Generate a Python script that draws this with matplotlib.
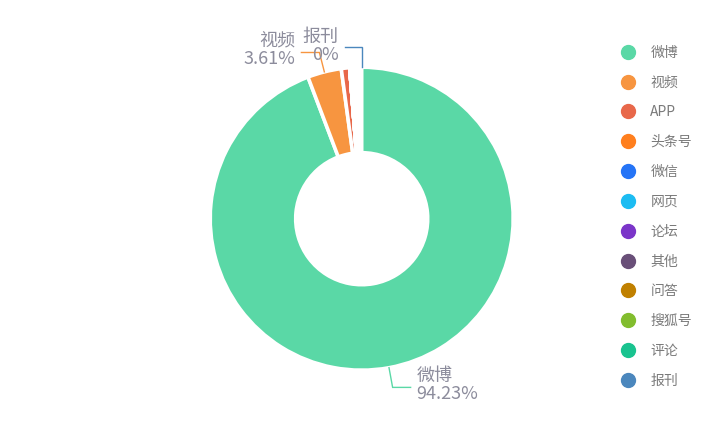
import numpy as np
import matplotlib
matplotlib.use("Agg")
import matplotlib.pyplot as plt
from matplotlib.lines import Line2D

plt.rcParams['font.family'] = ['Noto Sans CJK SC', 'DejaVu Sans']

# ---- data (percent of total) ----
categories = ['微博', '视频', 'APP', '头条号', '微信', '网页', '论坛', '其他', '问答', '搜狐号', '评论', '报刊']
values = [94.23, 3.61, 0.9, 0, 0, 0, 0, 0, 0, 0, 0, 0]
shown_labels = {'微博': '94.23%', '视频': '3.61%', '报刊': '0%'}
colors = ['#5ad8a6', '#f79540', '#e8684a', '#ff7f1e', '#2574f6', '#1cbcf2',
          '#7b35c9', '#694f78', '#c08000', '#82bd2e', '#19c38f', '#4b87bd']

W, H = 723, 437
fig = plt.figure(figsize=(W / 100, H / 100), dpi=100)
ax = fig.add_axes([0, 0, 1, 1])

cx, cy = 361.7, H - 218.7
R_out, R_in = 151.5, 66.0
START = 90

wedges, _ = ax.pie(np.array(values) / 100.0, colors=colors, startangle=START,
                   counterclock=False, normalize=False, radius=R_out,
                   center=(cx, cy),
                   wedgeprops=dict(width=R_out - R_in, edgecolor='white',
                                   linewidth=2.6))
ax.set_xlim(0, W)
ax.set_ylim(0, H)
ax.set_aspect('equal')
ax.axis('off')

label_color = '#8c8c9c'
len1, len2 = 20, 18
for w, name, v in zip(wedges, categories, values):
    if name not in shown_labels:
        continue
    if v == 0:
        mid = np.deg2rad(START)          # zero items sit on the closing seam
        l1, l2, dy_text = 20, 17, 1.5
    else:
        mid = np.deg2rad((w.theta1 + w.theta2) / 2.0)
        l1, l2, dy_text = len1, len2, 2.5
    x0, y0 = cx + R_out * np.cos(mid), cy + R_out * np.sin(mid)
    x1, y1 = cx + (R_out + l1) * np.cos(mid), cy + (R_out + l1) * np.sin(mid)
    side = 1 if np.cos(mid) > 1e-6 else -1
    x2 = x1 + side * l2
    ax.plot([x0, x1, x2], [y0, y1, y1], color=w.get_facecolor(), lw=1.0,
            solid_joinstyle='miter')
    ha = 'left' if side > 0 else 'right'
    tx = x2 + side * 6
    ax.text(tx, y1 + dy_text, name + '\n' + shown_labels[name], ha=ha,
            va='center', fontsize=13, color=label_color, linespacing=1.02)

handles = [Line2D([0], [0], marker='o', linestyle='none', markersize=10,
                  markerfacecolor=c, markeredgecolor=c) for c in colors]
leg = ax.legend(handles, categories, loc='upper left',
                bbox_to_anchor=(609 / W, 1 - 40 / H), frameon=False,
                fontsize=10, labelspacing=1.14, handletextpad=0.58,
                borderaxespad=0)
for t in leg.get_texts():
    t.set_color('#7a7a7a')

fig.savefig('out.png', dpi=100)
